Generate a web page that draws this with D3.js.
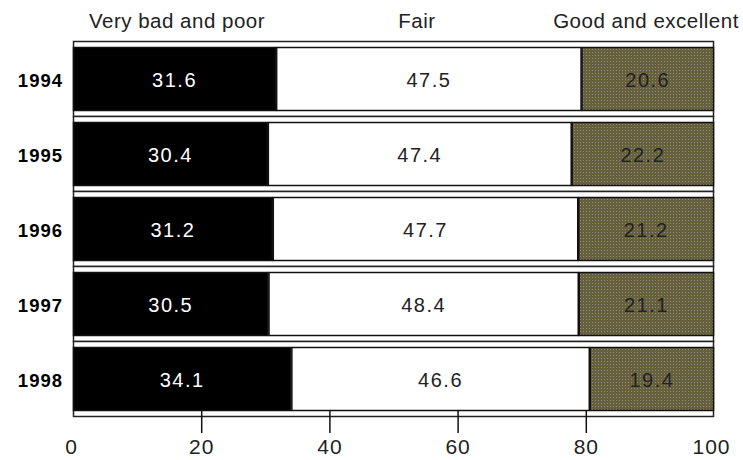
<!DOCTYPE html>
<html>
<head>
<meta charset="utf-8">
<script src="https://cdn.jsdelivr.net/npm/d3@7"></script>
<style>
  html, body { margin: 0; padding: 0; background: #fff; }
  svg { display: block; }
  text { font-family: "Liberation Sans", Arial, sans-serif; }
</style>
</head>
<body>
<div id="chart"></div>
<script>
// ---- data ----
const years = ["1994", "1995", "1996", "1997", "1998"];
const poor = [31.6, 30.4, 31.2, 30.5, 34.1];
const fair = [47.5, 47.4, 47.7, 48.4, 46.6];
const good = [20.6, 22.2, 21.2, 21.1, 19.4];
const seriesNames = ["Very bad and poor", "Fair", "Good and excellent"];
const tickValues = [0, 20, 40, 60, 80, 100];

// ---- layout ----
const W = 743, H = 460;
const mLeft = 73, mRight = 714, mTop = 41, mBottom = 416;
const inset = 6;

const svg = d3.select("#chart").append("svg").attr("width", W).attr("height", H);

const defs = svg.append("defs");
const pat = defs.append("pattern").attr("id", "dots")
  .attr("width", 3).attr("height", 3).attr("patternUnits", "userSpaceOnUse");
pat.append("rect").attr("width", 3).attr("height", 3).attr("fill", "#67603d");
pat.append("rect").attr("x", 1).attr("y", 1).attr("width", 1).attr("height", 1).attr("fill", "#8e8d85");

const rows = years.map((y, i) => ({ year: y, poor: poor[i], fair: fair[i], good: good[i] }));
const keys = ["poor", "fair", "good"];
const stacked = d3.stack().keys(keys).offset(d3.stackOffsetExpand)(rows);

const x = d3.scaleLinear().domain([0, 100]).range([mLeft, mRight]);
const yBand = d3.scaleBand().domain(years).range([mTop, mBottom]).paddingInner(0).paddingOuter(0);

const fills = { poor: "#000", fair: "#fff", good: "url(#dots)" };
const textFill = { poor: "#fff", fair: "#222", good: "#222" };

// row frames
svg.append("g").selectAll("rect").data(years).join("rect")
  .attr("x", x(0) + 0.5)
  .attr("y", d => yBand(d) + 0.5)
  .attr("width", x(100) - x(0) - 1)
  .attr("height", yBand.bandwidth())
  .attr("fill", "#fff").attr("stroke", "#222").attr("stroke-width", 1.5);

// bar segments
const segG = svg.append("g");
stacked.forEach(layer => {
  const k = layer.key;
  segG.selectAll(null).data(layer).join("rect")
    .attr("x", d => x(d[0] * 100) + 0.5)
    .attr("y", d => yBand(d.data.year) + inset + 0.5)
    .attr("width", d => x(d[1] * 100) - x(d[0] * 100) - 1)
    .attr("height", yBand.bandwidth() - 2 * inset)
    .attr("fill", fills[k]).attr("stroke", "#111").attr("stroke-width", 1.5);
  segG.selectAll(null).data(layer).join("text")
    .attr("x", d => (x(d[0] * 100) + x(d[1] * 100)) / 2)
    .attr("y", d => yBand(d.data.year) + yBand.bandwidth() / 2 + 8.5)
    .attr("text-anchor", "middle")
    .attr("font-size", 20).attr("letter-spacing", 1.5)
    .attr("fill", textFill[k])
    .text(d => d.data[k].toFixed(1));
});

// year labels
svg.append("g").selectAll("text").data(years).join("text")
  .attr("x", 63)
  .attr("y", d => yBand(d) + yBand.bandwidth() / 2 + 8.5)
  .attr("text-anchor", "end")
  .attr("font-size", 18.5).attr("font-weight", "bold").attr("letter-spacing", 1)
  .attr("fill", "#000")
  .text(d => d);

// series headers
const headerX = [177, 417, 646];
svg.append("g").selectAll("text").data(seriesNames).join("text")
  .attr("x", (d, i) => headerX[i])
  .attr("y", 28)
  .attr("text-anchor", "middle")
  .attr("font-size", 20.5).attr("letter-spacing", 0.5)
  .attr("fill", "#222")
  .text(d => d);

// axis
const axisG = svg.append("g").attr("transform", `translate(0, ${mBottom - inset})`);
const axis = d3.axisBottom(x).tickValues(tickValues).tickSize(23).tickPadding(10).tickFormat(d3.format("d"));
axisG.call(axis);
axisG.select(".domain").remove();
axisG.selectAll(".tick line").attr("stroke", "#111").attr("stroke-width", 1.5)
  .attr("display", d => (d === 0 || d === 100) ? "none" : null);
axisG.selectAll(".tick text")
  .attr("font-size", 21).attr("letter-spacing", 1)
  .attr("font-family", "'Liberation Sans', Arial, sans-serif")
  .attr("fill", "#222").attr("y", 29).attr("dy", "0.71em")
  .attr("dx", d => d === 0 ? -2 : (d === 100 ? -3 : 0));
</script>
</body>
</html>
